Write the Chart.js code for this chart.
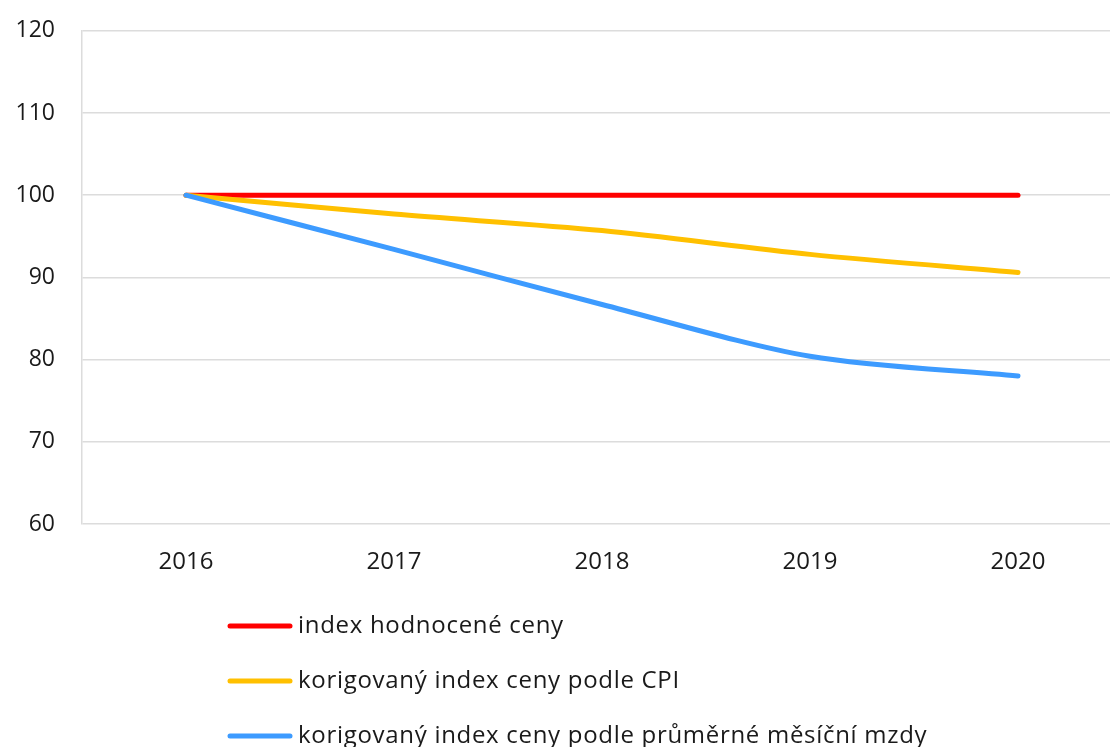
<!DOCTYPE html>
<html>
<head>
<meta charset="utf-8">
<script src="https://cdn.jsdelivr.net/npm/chart.js@4.4.0/dist/chart.umd.min.js"></script>
<style>
html,body{margin:0;padding:0;background:#fff;overflow:hidden;}
#wrap{width:1122px;height:747px;overflow:hidden;}
#c{display:block;margin-top:-10px;}
</style>
</head>
<body>
<div id="wrap"><canvas id="c" width="1122" height="757"></canvas></div>
<script>
const years = ['2016', '2017', '2018', '2019', '2020'];
const indexHodnocene = [100, 100, 100, 100, 100];
const indexCPI = [100, 97.7, 95.7, 92.8, 90.6];
const indexMzdy = [100, 93.4, 86.7, 80.4, 78.0];
const seriesLabels = [
  'index hodnocené ceny',
  'korigovaný index ceny podle CPI',
  'korigovaný index ceny podle průměrné měsíční mzdy'
];
const seriesColors = ['#FF0000', '#FFC000', '#3D9BFF'];

const FONT = '"Open Sans", "Liberation Sans", sans-serif';

const legendPlugin = {
  id: 'listLegend',
  afterDraw(chart) {
    const ctx = chart.ctx;
    const x0 = 228, lineLen = 64, gap = 6, y0 = 636, rowGap = 55;
    ctx.save();
    chart.data.datasets.forEach((ds, i) => {
      const y = y0 + i * rowGap;
      ctx.strokeStyle = ds.borderColor;
      ctx.lineWidth = 5;
      ctx.lineCap = 'round';
      ctx.beginPath();
      ctx.moveTo(x0 + 2, y);
      ctx.lineTo(x0 + lineLen - 2, y);
      ctx.stroke();
      ctx.fillStyle = '#1a1a1a';
      ctx.font = '24px ' + FONT;
      ctx.textBaseline = 'middle';
      ctx.textAlign = 'left';
      try { ctx.letterSpacing = '0.7px'; } catch (e) {}
      ctx.fillText(ds.label, x0 + lineLen + gap, y);
    });
    ctx.restore();
  }
};

new Chart(document.getElementById('c'), {
  type: 'line',
  data: {
    labels: years,
    datasets: [
      { label: seriesLabels[0], data: indexHodnocene, borderColor: seriesColors[0], order: 2 },
      { label: seriesLabels[1], data: indexCPI, borderColor: seriesColors[1], order: 1 },
      { label: seriesLabels[2], data: indexMzdy, borderColor: seriesColors[2], order: 0 }
    ].map(d => Object.assign(d, {
      borderWidth: 5, pointRadius: 0, tension: 0.3, fill: false,
      borderCapStyle: 'round', borderJoinStyle: 'round', backgroundColor: d.borderColor
    }))
  },
  options: {
    responsive: false,
    animation: false,
    layout: { padding: { top: 20, right: 0, left: 0, bottom: 0 } },
    plugins: { legend: { display: false }, tooltip: { enabled: false } },
    scales: {
      x: {
        offset: true,
        grid: { display: false, drawTicks: false },
        border: { display: false },
        ticks: { color: '#1a1a1a', font: { family: FONT, size: 24 }, padding: 24 },
        afterFit(scale) { scale.height = 223; }
      },
      y: {
        min: 60, max: 120,
        ticks: { stepSize: 10, color: '#1a1a1a', font: { family: FONT, size: 23 }, padding: 27 },
        grid: { color: '#DCDCDC', lineWidth: 1.5, drawTicks: false },
        border: { display: true, color: '#DCDCDC', width: 1.5 },
        afterFit(scale) { scale.width = 82; }
      }
    }
  },
  plugins: [legendPlugin]
});
</script>
</body>
</html>
